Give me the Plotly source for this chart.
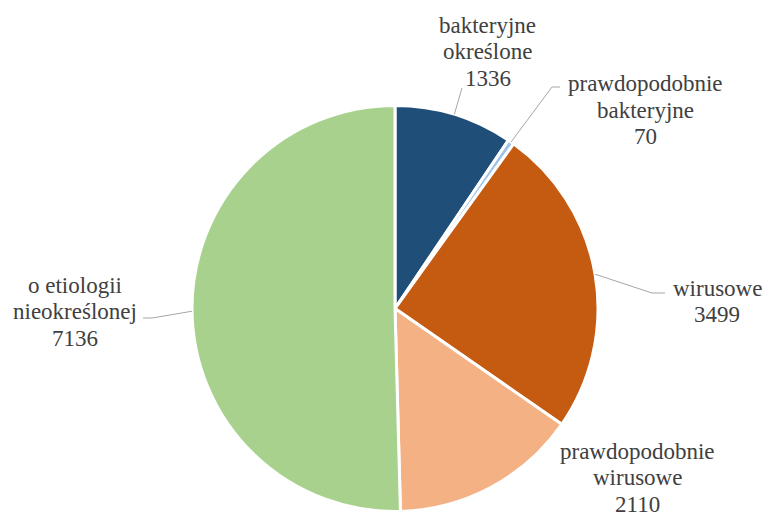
import numpy as np
import plotly.graph_objects as go

# Etiology categories and counts
labels = ["bakteryjne określone", "prawdopodobnie bakteryjne", "wirusowe",
          "prawdopodobnie wirusowe", "o etiologii nieokreślonej"]
values = [1336, 70, 3499, 2110, 7136]
colors = ["#1F4E79", "#9DC3E6", "#C55A11", "#F4B183", "#A9D18E"]
# Label text lines for each slice (name lines + value)
label_lines = [["bakteryjne", "określone"], ["prawdopodobnie", "bakteryjne"],
               ["wirusowe"], ["prawdopodobnie", "wirusowe"],
               ["o etiologii", "nieokreślonej"]]

W, H = 765, 514
CX, CY, R = 395, 308.5, 203  # pie centre / radius in pixels
FONT = "Liberation Serif"

def px(x):
    return x / W

def py(y):
    return 1 - y / H

fig = go.Figure(go.Pie(
    labels=labels, values=values, sort=False, direction="clockwise", rotation=0,
    marker=dict(colors=colors, line=dict(color="white", width=3)),
    textinfo="none", hoverinfo="label+value", showlegend=False,
    domain=dict(x=[px(CX - R), px(CX + R)], y=[py(CY + R), py(CY - R)]),
))

# Label block placement: centre x, first line y (pixels), and leader elbow
label_pos = [(488, 25), (645, 84), (717, 288), (637, 451), (75, 285)]
elbows = [[(462, 88)], [(552, 87), (560, 87)], [(652, 293), (665, 293)],
          None, [(152, 318), (143, 318)]]
LINE_H = 26.5

vals = np.array(values, dtype=float)
ends = np.cumsum(vals) / vals.sum() * 360
mids = ends - vals / vals.sum() * 180

annotations = []
shapes = []
for i, lines in enumerate(label_lines):
    cx, y0 = label_pos[i]
    for j, t in enumerate(lines + [str(values[i])]):
        annotations.append(dict(
            x=px(cx), y=py(y0 + j * LINE_H), xref="paper", yref="paper",
            text=t, showarrow=False, xanchor="center", yanchor="middle",
            font=dict(family=FONT, size=23, color="#404040"),
        ))
    if elbows[i]:
        a = np.radians(mids[i])
        pts = [(CX + R * np.sin(a), CY - R * np.cos(a))] + elbows[i]
        path = "M " + " L ".join(f"{px(x):.5f},{py(y):.5f}" for x, y in pts)
        shapes.append(dict(type="path", path=path, xref="paper", yref="paper",
                           line=dict(color="#A6A6A6", width=1)))

fig.update_layout(
    width=W, height=H, margin=dict(l=0, r=0, t=0, b=0),
    paper_bgcolor="white", plot_bgcolor="white",
    annotations=annotations, shapes=shapes,
)

fig.write_html("out.html")
